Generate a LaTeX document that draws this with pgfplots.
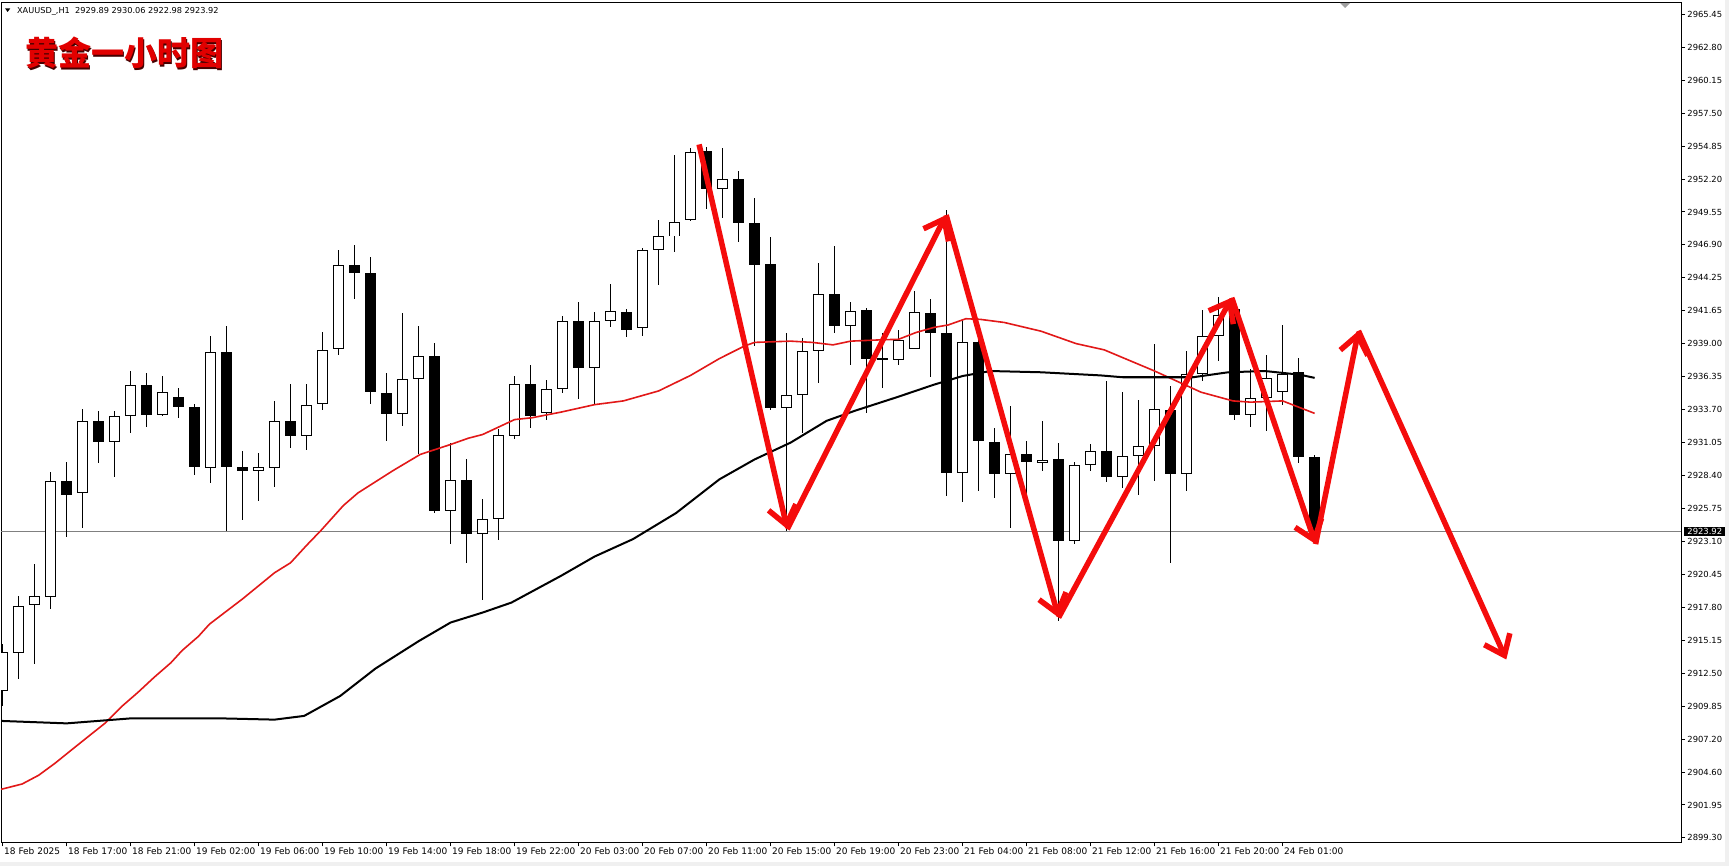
\documentclass[border=0pt]{standalone}
\usepackage{pgfplots}
\pgfplotsset{compat=1.18}
\usepackage{pgfplotstable}
\usepackage{fontspec}
\setmainfont{DejaVu Sans}
\newfontfamily\cjk{Noto Sans CJK SC}
\usetikzlibrary{arrows.meta}

\definecolor{maRed}{RGB}{226,24,24}
\definecolor{arrowRed}{RGB}{244,12,12}
\definecolor{bidGray}{RGB}{128,128,128}
\definecolor{stripGray}{RGB}{240,240,240}
\definecolor{titleRed}{RGB}{225,0,0}
\definecolor{titleShadow}{RGB}{70,0,0}

% XAUUSD H1 bars: index, open, high, low, close
\pgfplotstableread{
i O H L C
0 2911.13 2914.87 2909.90 2914.20
1 2914.20 2918.75 2912.06 2917.94
2 2918.05 2921.29 2913.27 2918.70
3 2918.70 2928.69 2917.68 2927.97
5 2927.03 2933.72 2924.23 2932.78
7 2931.12 2933.58 2928.32 2933.18
8 2933.21 2936.79 2931.85 2935.67
10 2933.29 2936.44 2933.18 2935.11
13 2929.06 2939.60 2927.80 2938.34
16 2928.77 2930.24 2926.37 2929.12
17 2929.04 2934.44 2927.49 2932.81
19 2931.58 2935.80 2930.46 2934.09
20 2934.17 2939.94 2933.66 2938.50
21 2938.58 2946.55 2938.07 2945.32
25 2933.34 2941.47 2932.38 2936.17
26 2936.17 2940.45 2930.11 2938.02
28 2925.56 2931.04 2922.89 2928.05
30 2923.75 2926.50 2918.40 2924.95
31 2924.95 2932.11 2923.21 2931.66
32 2931.58 2936.44 2931.31 2935.77
34 2933.45 2936.07 2932.90 2935.37
35 2935.38 2941.21 2935.00 2940.83
37 2937.06 2941.53 2934.12 2940.83
38 2940.83 2943.83 2940.35 2941.61
40 2940.27 2946.69 2939.60 2946.53
41 2946.56 2948.96 2943.69 2947.62
42 2947.62 2954.17 2946.34 2948.77
43 2948.96 2954.71 2948.83 2954.39
45 2951.42 2954.71 2949.09 2952.22
49 2933.83 2939.87 2923.97 2934.85
50 2934.85 2939.47 2931.85 2938.43
51 2938.43 2945.49 2935.86 2943.03
53 2940.46 2942.33 2937.25 2941.61
56 2937.73 2940.14 2937.33 2939.34
57 2938.59 2943.21 2938.54 2941.56
60 2928.59 2940.94 2926.29 2939.12
63 2928.51 2933.99 2924.23 2930.17
65 2929.45 2932.79 2928.78 2929.69
67 2923.16 2929.53 2922.90 2929.23
68 2929.26 2930.91 2928.80 2930.40
70 2928.32 2935.14 2927.44 2929.98
71 2929.98 2934.52 2926.82 2930.78
72 2930.78 2939.01 2927.97 2933.77
74 2928.51 2938.40 2927.17 2936.58
75 2936.58 2941.69 2935.99 2939.60
76 2939.60 2942.76 2937.60 2941.30
78 2933.27 2936.98 2932.30 2934.66
79 2934.66 2938.13 2931.98 2936.26
80 2935.11 2940.54 2934.12 2936.58
}\upbars

\pgfplotstableread{
i O H L C
4 2927.97 2929.49 2923.50 2926.85
6 2932.78 2933.58 2929.44 2931.12
9 2935.67 2936.66 2932.33 2933.26
11 2934.70 2935.45 2933.05 2933.90
12 2933.93 2934.17 2928.42 2929.12
14 2938.34 2940.40 2923.96 2929.09
15 2929.12 2930.37 2924.84 2928.77
18 2932.81 2935.72 2930.62 2931.58
22 2945.32 2946.95 2942.59 2944.65
23 2944.67 2945.96 2934.17 2935.13
24 2935.05 2936.66 2931.18 2933.34
27 2938.02 2939.06 2925.43 2925.56
29 2928.05 2929.71 2921.37 2923.75
33 2935.77 2937.33 2932.25 2933.18
36 2940.78 2942.33 2934.58 2937.06
39 2941.56 2941.80 2939.55 2940.09
44 2954.44 2954.84 2949.82 2951.42
46 2952.22 2952.84 2947.14 2948.69
47 2948.69 2950.70 2938.80 2945.35
48 2945.43 2947.57 2933.70 2933.83
52 2943.03 2946.88 2939.87 2940.41
54 2941.74 2941.88 2933.46 2937.79
55 2937.85 2939.87 2935.46 2937.75
58 2941.48 2942.60 2936.34 2939.87
59 2939.87 2949.71 2926.77 2928.64
61 2939.12 2939.87 2927.17 2931.18
62 2931.10 2932.25 2926.64 2928.51
64 2930.17 2931.18 2925.57 2929.52
66 2929.71 2930.99 2916.75 2923.16
69 2930.38 2935.99 2927.89 2928.32
73 2933.72 2935.59 2921.43 2928.51
77 2941.79 2942.20 2932.87 2933.27
81 2936.74 2937.86 2929.45 2929.90
82 2929.89 2930.06 2922.98 2923.92
}\downbars

\pgfplotsset{
  wick/.style={draw=none, mark=none, forget plot,
    error bars/.cd, y dir=both, y explicit, error mark=none,
    error bar style={draw=black, line width=0.5pt}},
  body/.style={draw=none, mark=none, forget plot,
    error bars/.cd, y dir=both, y explicit, error mark=none,
    error bar style={draw=#1, line width=5.5pt}},
  hollow/.style={draw=none, mark=none, forget plot,
    error bars/.cd, y dir=both, y explicit, error mark=none,
    error bar style={draw=white, line width=4.5pt}},
  trend/.style={arrowRed, line width=2.75pt, line cap=butt,
    -{Straight Barb[length=9pt,width=14pt]}},
}

\begin{document}
\begin{tikzpicture}[x=0.5pt,y=0.5pt]
\fill[white] (0,0) rectangle (1729,866);
\useasboundingbox (0,0) rectangle (1729,866);
\fill[stripGray] (0,0) rectangle (1729,4);
\fill[stripGray] (1725,0) rectangle (1729,866);
\begin{axis}[
  at={(0.5pt,11.8pt)}, anchor=south west,
  scale only axis, width=840pt, height=419.7pt,
  xmin=-0.1, xmax=104.9, ymin=2898.94, ymax=2966.36,
  clip mode=individual,
  axis line style={black, line width=0.5pt},
  tick align=outside, major tick length=2pt,
  tick style={black, line width=0.5pt},
  xtick pos=left, ytick pos=right, yticklabel pos=right,
  scaled y ticks=false, scaled x ticks=false,
  xtick={0,4,...,80},
  xticklabels={18 Feb 2025,18 Feb 17:00,18 Feb 21:00,19 Feb 02:00,19 Feb 06:00,19 Feb 10:00,19 Feb 14:00,19 Feb 18:00,19 Feb 22:00,20 Feb 03:00,20 Feb 07:00,20 Feb 11:00,20 Feb 15:00,20 Feb 19:00,20 Feb 23:00,21 Feb 04:00,21 Feb 08:00,21 Feb 12:00,21 Feb 16:00,21 Feb 20:00,24 Feb 01:00},
  ytick={2899.3,2901.946,2904.592,2907.238,2909.884,2912.53,2915.176,2917.822,2920.468,2923.114,2925.76,2928.406,2931.052,2933.698,2936.344,2938.99,2941.636,2944.282,2946.928,2949.574,2952.22,2954.866,2957.512,2960.158,2962.804,2965.45},
  yticklabels={2899.30,2901.95,2904.60,2907.20,2909.85,2912.50,2915.15,2917.80,2920.45,2923.10,2925.75,2928.40,2931.05,2933.70,2936.35,2939.00,2941.65,2944.25,2946.90,2949.55,2952.20,2954.85,2957.50,2960.15,2962.80,2965.45},
  xticklabel style={font=\fontsize{4.5pt}{5pt}\selectfont, anchor=base west, inner sep=0pt, xshift=0.6pt, yshift=-4pt},
  yticklabel style={font=\fontsize{4.2pt}{5pt}\selectfont, anchor=west, inner sep=0pt, xshift=1pt},
]
% last bid price line
\addplot[bidGray, line width=0.5pt, forget plot] coordinates {(-0.1,2923.92) (104.9,2923.92)};

% wicks
\addplot[wick] table[x=i, y expr={(\thisrow{H}+\thisrow{L})/2}, y error expr={(\thisrow{H}-\thisrow{L})/2}] {\upbars};
\addplot[wick] table[x=i, y expr={(\thisrow{H}+\thisrow{L})/2}, y error expr={(\thisrow{H}-\thisrow{L})/2}] {\downbars};
% bearish bodies
\addplot[body=black] table[x=i, y expr={(\thisrow{O}+\thisrow{C})/2}, y error expr={abs(\thisrow{O}-\thisrow{C})/2}] {\downbars};
% bullish bodies: outline then white interior
\addplot[body=black] table[x=i, y expr={(\thisrow{O}+\thisrow{C})/2}, y error expr={abs(\thisrow{O}-\thisrow{C})/2}] {\upbars};
\addplot[hollow] table[x=i, y expr={(\thisrow{O}+\thisrow{C})/2}, y error expr={abs(\thisrow{O}-\thisrow{C})/2-0.08}] {\upbars};

% moving averages
\addplot[maRed, line width=0.8pt] coordinates {
(-0.16,2903.18) (1.22,2903.63) (2.25,2904.33) (3.28,2905.30) (4.32,2906.38) (5.35,2907.44) (6.38,2908.49) (7.42,2909.83) (8.45,2910.98) (9.49,2912.22) (10.52,2913.37) (11.21,2914.34) (12.24,2915.49) (12.93,2916.47) (15,2918.5) (17,2920.6) (18,2921.4) (19,2922.8) (19.9,2924.0) (21.3,2926.0) (22.2,2927.0) (24.4,2928.8) (26.1,2930.1) (28,2930.9) (29.1,2931.4) (30,2931.7) (32,2932.9) (33.1,2933.05) (34.9,2933.5) (37,2934.1) (38.8,2934.4) (41,2935.2) (43,2936.45) (44.8,2937.8) (46.35,2938.8) (47,2939.1) (49.25,2939.2) (50.6,2939.1) (51.9,2938.9) (53,2939.2) (54.8,2939.3) (56,2939.35) (57.1,2939.9) (58.2,2940.3) (59.1,2940.5) (60.2,2941.0) (61.1,2940.95) (62.6,2940.7) (64.9,2940.0) (67.1,2939.0) (68.85,2938.5) (72,2936.8) (74.9,2935.1) (76.9,2934.4) (78,2934.3) (80,2934.4) (82,2933.4)};
\addplot[black, line width=1pt] coordinates {
(-0.16,2908.7) (4,2908.5) (8,2908.9) (13.7,2908.9) (17,2908.8) (18.85,2909.1) (21.1,2910.7) (23.3,2912.9) (26,2915.1) (28,2916.6) (30,2917.4) (31.8,2918.2) (34.9,2920.35) (37,2921.9) (39.4,2923.3) (42.1,2925.4) (44.8,2928.1) (47,2929.7) (49.25,2931.05) (51.5,2932.8) (53.25,2933.6) (55.9,2934.7) (58.2,2935.7) (60,2936.4) (61.75,2936.8) (64.9,2936.7) (68.6,2936.45) (70,2936.3) (74.4,2936.3) (76.6,2936.7) (78.9,2936.8) (81.1,2936.5) (82,2936.25)};

% swing path
\addplot[trend] coordinates {(43.53,2955.0) (49.04,2924.1)};
\addplot[trend] coordinates {(49.04,2924.1) (58.97,2949.33)};
\addplot[trend] coordinates {(58.97,2949.33) (66.0,2917.0)};
\addplot[trend] coordinates {(66.0,2917.0) (76.82,2942.69)};
\addplot[trend] coordinates {(76.82,2942.69) (82.06,2922.9)};
\addplot[trend] coordinates {(82.06,2922.9) (84.74,2940.03)};
\addplot[trend] coordinates {(84.74,2940.03) (93.98,2913.63)};

% current price tag
\node[fill=black, text=white, anchor=west, inner xsep=1.5pt, inner ysep=0.8pt,
      font=\fontsize{4.2pt}{5pt}\selectfont, xshift=1.5pt] at (axis cs:104.9,2923.92) {2923.92};
\end{axis}

% chart header
\fill[black] (5,857.7) -- (10.3,857.7) -- (7.65,854) -- cycle;
\node[anchor=base west, inner sep=0pt, font=\fontsize{4.1pt}{5pt}\selectfont] at (16.7,852.7)
  {XAUUSD\_,H1\ \ 2929.89 2930.06 2922.98 2923.92};
\fill[gray!75] (1340,863) -- (1350,863) -- (1345,858) -- cycle;
\node[anchor=west, inner sep=0pt, text=titleShadow, font=\cjk\bfseries\fontsize{16.5pt}{18pt}\selectfont] at (26.5,811.5) {黄金一小时图};
\node[anchor=west, inner sep=0pt, text=titleRed, font=\cjk\bfseries\fontsize{16.5pt}{18pt}\selectfont] at (25,813) {黄金一小时图};
\end{tikzpicture}
\end{document}
